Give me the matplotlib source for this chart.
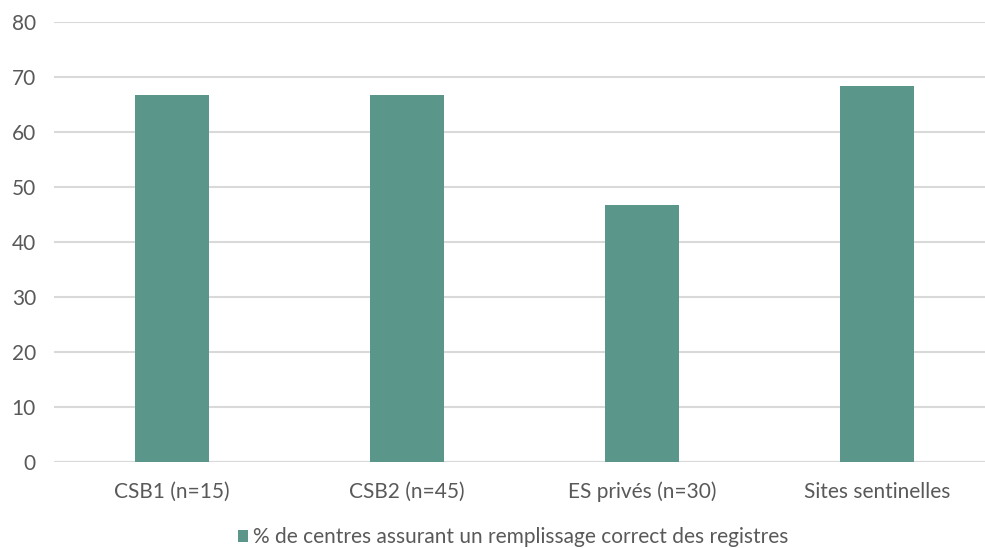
import matplotlib.pyplot as plt
from matplotlib.patches import Patch

categories = ['CSB1 (n=15)', 'CSB2 (n=45)', 'ES privés (n=30)', 'Sites sentinelles']
values = [66.7, 66.7, 46.7, 68.3]
series_name = '% de centres assurant un remplissage correct des registres'
yticks = [0, 10, 20, 30, 40, 50, 60, 70, 80]

bar_color = '#5A9689'
text_color = '#595959'
grid_color = '#D9D9D9'

plt.rcParams['font.family'] = ['Lato', 'DejaVu Sans']

W, H = 985, 548
fig = plt.figure(figsize=(W / 100, H / 100), dpi=100)
ax = fig.add_axes([54 / W, (H - 462.3) / H, 941 / W, 440.3 / H])

x = range(len(categories))
ax.bar(x, values, width=0.315, color=bar_color, zorder=3)

ax.set_xlim(-0.5, len(categories) - 0.5)
ax.set_ylim(0, 80)
ax.set_yticks(yticks)
ax.set_yticklabels([str(t) for t in yticks])
ax.set_xticks(list(x))
ax.set_xticklabels(categories)

ax.grid(axis='y', color=grid_color, linewidth=1.5, zorder=0)
for s in ax.spines.values():
    s.set_visible(False)
ax.axhline(0, color=grid_color, linewidth=1.5, zorder=2)
ax.tick_params(axis='both', length=0, labelsize=15, labelcolor=text_color)
ax.tick_params(axis='y', pad=13)
ax.tick_params(axis='x', pad=14)

handle = Patch(facecolor=bar_color, edgecolor='none')
fig.legend([handle], [series_name], loc='center', bbox_to_anchor=(513 / W, 11 / H),
           frameon=False, fontsize=15, labelcolor=text_color,
           handlelength=0.5, handleheight=0.5, handletextpad=0.2)

fig.savefig('out.png', dpi=100)
